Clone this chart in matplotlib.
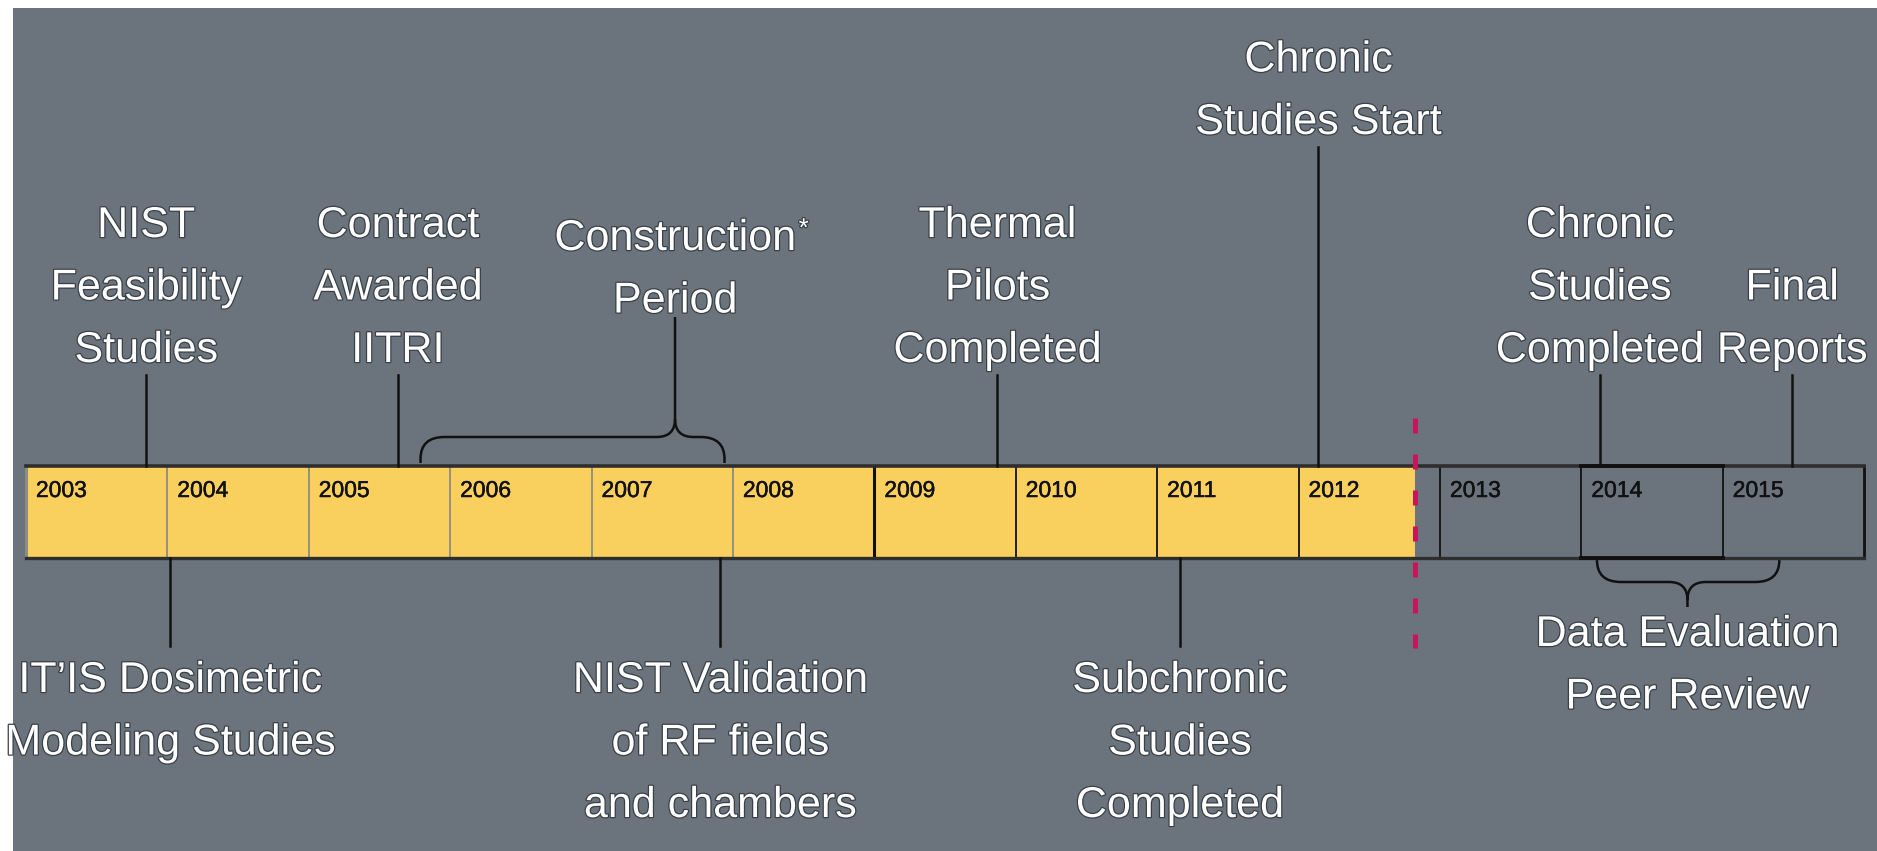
import matplotlib
matplotlib.use("Agg")
import matplotlib.pyplot as plt
import matplotlib.patheffects as pe
from matplotlib import font_manager
from matplotlib.patches import Rectangle, PathPatch
from matplotlib.path import Path

# ---- timeline data ----
years = list(range(2003, 2016))
done_until = 2012.82      # yellow fill stops here, red "today" marker
dark_from = 2009          # cells get black borders from this year on

top_labels = ["NIST\nFeasibility\nStudies", "Contract\nAwarded\nIITRI",
              "Thermal\nPilots\nCompleted", "Chronic\nStudies Start",
              "Chronic\nStudies\nCompleted", "Final\nReports"]
top_x = [2003.85, 2005.63, 2009.87, 2012.14, 2014.13, 2015.49]

bottom_labels = ["IT\u2019IS Dosimetric\nModeling Studies",
                 "NIST Validation\nof RF fields\nand chambers",
                 "Subchronic\nStudies\nCompleted"]
bottom_x = [2004.02, 2007.91, 2011.16]

span_labels = ["Construction\nPeriod", "Data Evaluation\nPeer Review"]
span_start = [2005.79, 2014.11]
span_end = [2007.94, 2015.40]
span_tip = [2007.59, 2014.75]

# ---- layout (pixels) ----
W, H = 1877, 851
px_per_year = 141.4
bar_left_px = 26
bar_top, bar_bot = 466, 558
line_gap = 62.5
top_last_base = [362, 362, 362, 134, 362, 362]

names = {f.name for f in font_manager.fontManager.ttflist}
if "Liberation Sans Narrow" in names:
    FONT = "Liberation Sans Narrow"
    label_size, year_size = 35, 19.5
else:
    FONT = "Liberation Sans"
    label_size, year_size = 31, 16.5
plt.rcParams["font.family"] = [FONT, "DejaVu Sans"]

bg_color = "#6b747d"
yellow = "#f9d05e"
ink = "#111111"

fig = plt.figure(figsize=(W / 100, H / 100), dpi=100)
fig.patch.set_facecolor("white")
fig.add_artist(Rectangle((13 / W, 0), 1 - 13 / W, 1 - 8 / H, transform=fig.transFigure,
                         facecolor=bg_color, edgecolor="none", zorder=-10))

ax = fig.add_axes([0, 0, 1, 1])
x_left = years[0] - bar_left_px / px_per_year
ax.set_xlim(x_left, x_left + W / px_per_year)
ax.set_ylim(H, 0)
ax.axis("off")

outline = [pe.withStroke(linewidth=1.8, foreground="#394047")]
year_fx = [pe.withStroke(linewidth=0.35, foreground=ink)]


def put_lines(x, text, first_base):
    objs = []
    for i, s in enumerate(text.split("\n")):
        objs.append(ax.text(x, first_base + i * line_gap, s, ha="center", va="baseline",
                            color="white", fontsize=label_size, path_effects=outline))
    return objs


def brace(x0, x1, xt, y_end, y_mid, y_tip, rx=0.17, ry=22, tx=0.13, ty=18):
    d = 1 if y_mid > y_end else -1
    verts, codes = [], []
    for xe, sx in ((x0, 1), (x1, -1)):
        verts += [(xe, y_end), (xe, y_mid - d * ry), (xe, y_mid), (xe + sx * rx, y_mid),
                  (xt - sx * tx, y_mid), (xt, y_mid), (xt, y_mid + d * ty)]
        codes += [Path.MOVETO, Path.LINETO, Path.CURVE3, Path.CURVE3,
                  Path.LINETO, Path.CURVE3, Path.CURVE3]
    verts += [(xt, y_mid + d * ty), (xt, y_tip)]
    codes += [Path.MOVETO, Path.LINETO]
    ax.add_patch(PathPatch(Path(verts, codes), fill=False, lw=1.8, edgecolor=ink))


# ---- the bar ----
end = years[-1] + 1
for yr in years:
    if yr < done_until:
        ax.add_patch(Rectangle((yr, bar_top), min(1, done_until - yr), bar_bot - bar_top,
                               facecolor=yellow, edgecolor="none", zorder=1))
    col = ink if yr >= dark_from else "#8d8c82"
    lw = 2.2 if yr in (years[0], dark_from) else 1.3
    ax.plot([yr, yr], [bar_top, bar_bot], color=col, lw=lw, zorder=2)
    ax.text(yr + 0.07, bar_top + 31, str(yr), fontsize=year_size, color=ink,
            ha="left", va="baseline", zorder=3, path_effects=year_fx)
ax.plot([end, end], [bar_top, bar_bot], color=ink, lw=2.0, zorder=2)
ax.plot([years[0], end], [bar_top, bar_top], color="#2e2e2e", lw=2.6, zorder=2)
ax.plot([years[0], end], [bar_bot, bar_bot], color="#2e2e2e", lw=2.4, zorder=2)
# 2014 cell is boxed a little heavier
ax.plot([2014, 2015], [bar_top, bar_top], color=ink, lw=2.8, zorder=2)
ax.plot([2014, 2015], [bar_bot, bar_bot], color=ink, lw=2.8, zorder=2)

# today marker
ax.plot([done_until, done_until], [418, 648], color="#c8145a", lw=3.6,
        linestyle=(0, (3.0, 4.2)), zorder=4)

# ---- milestones above the bar ----
for x, lab, base in zip(top_x, top_labels, top_last_base):
    n = lab.count("\n")
    put_lines(x, lab, base - n * line_gap)
    ax.plot([x, x], [base + 13, bar_top], color=ink, lw=1.8)

# ---- milestones below the bar ----
for x, lab in zip(bottom_x, bottom_labels):
    put_lines(x, lab, 692)
    ax.plot([x, x], [bar_bot, 646], color=ink, lw=1.8)

# ---- periods with braces ----
brace(span_start[0], span_end[0], span_tip[0], 463, 437, 317)
cons = put_lines(span_tip[0], span_labels[0], 250)
brace(span_start[1], span_end[1], span_tip[1], 560, 582, 607)
put_lines(span_tip[1], span_labels[1], 646)

# asterisk after "Construction"
fig.canvas.draw()
bb = cons[0].get_window_extent(fig.canvas.get_renderer())
ax_x, ax_y = ax.transData.inverted().transform((bb.x1 + 3, bb.y1 + 2))
ax.text(ax_x, ax_y, "*", ha="left", va="top", color="white", fontsize=label_size * 0.6,
        path_effects=outline)

fig.savefig("out.png", dpi=100, facecolor=fig.get_facecolor())
